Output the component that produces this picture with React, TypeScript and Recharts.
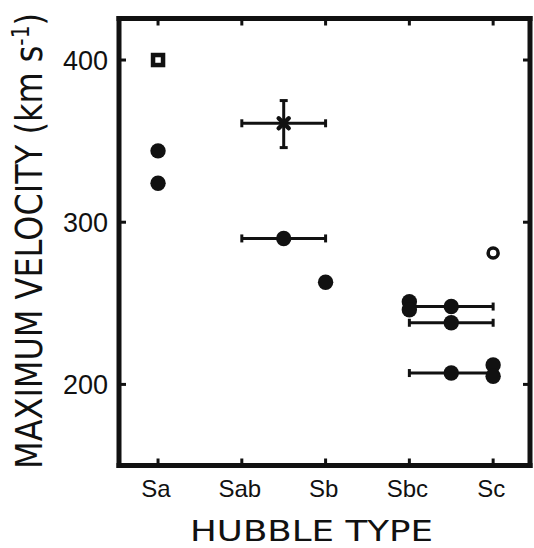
import { ScatterChart, Scatter, XAxis, YAxis, ErrorBar, Label } from 'recharts';

const categories = ['Sa', 'Sab', 'Sb', 'Sbc', 'Sc'];
const xTicks = [0, 1, 2, 3, 4];
const yTicks = [200, 300, 400];

// plain filled dots
const filledPoints = [
  { x: 0, y: 344 },
  { x: 0, y: 324 },
  { x: 2, y: 263 },
  { x: 3, y: 251 },
  { x: 3, y: 246 },
  { x: 4, y: 212 },
  { x: 4, y: 205 },
];

// filled dots with a horizontal range bar
const rangePoints = [
  { x: 1.5, y: 290, xerr: 0.5 },
  { x: 3.5, y: 248, xerr: 0.5 },
  { x: 3.5, y: 238, xerr: 0.5 },
  { x: 3.5, y: 207, xerr: 0.5 },
];

const openCircles = [{ x: 4, y: 281 }];
const openSquares = [{ x: 0, y: 400 }];
const crossPoints = [{ x: 1.5, y: 361, xerr: 0.5, yerr: [15, 14] }];

const INK = '#111';
const TICK = 7;

const FilledDot = (props: any) => <circle cx={props.cx} cy={props.cy} r={7.7} fill={INK} />;
const OpenDot = (props: any) => (
  <circle cx={props.cx} cy={props.cy} r={5} fill="#fff" stroke={INK} strokeWidth={3.5} />
);
const OpenSquare = (props: any) => (
  <rect x={props.cx - 5} y={props.cy - 5} width={10} height={10} fill="#fff" stroke={INK} strokeWidth={4.5} />
);
const Cross = (props: any) => (
  <path
    d={`M${props.cx - 5},${props.cy - 5}L${props.cx + 5},${props.cy + 5}M${props.cx + 5},${props.cy - 5}L${props.cx - 5},${props.cy + 5}`}
    stroke={INK}
    strokeWidth={4.5}
    strokeLinecap="round"
  />
);

const BottomTick = (props: any) => {
  const { x, y, payload } = props;
  return (
    <g>
      <line x1={x} y1={y} x2={x} y2={y - TICK} stroke={INK} strokeWidth={3} />
      <text x={x - 2} y={y + 31.5} textAnchor="middle" fontSize={24} fontFamily="Liberation Sans, Arial, sans-serif" fill={INK}>
        {categories[payload.value]}
      </text>
    </g>
  );
};

const TopTick = (props: any) => {
  const { x, y } = props;
  return <line x1={x} y1={y} x2={x} y2={y + TICK} stroke={INK} strokeWidth={3} />;
};

const LeftTick = (props: any) => {
  const { x, y, payload } = props;
  return (
    <g>
      <line x1={x} y1={y} x2={x + TICK} y2={y} stroke={INK} strokeWidth={3} />
      <text x={x - 11} y={y + 10} textAnchor="end" fontSize={27} fontFamily="Liberation Sans, Arial, sans-serif" fill={INK}>
        {payload.value}
      </text>
    </g>
  );
};

const RightTick = (props: any) => {
  const { x, y } = props;
  return <line x1={x} y1={y} x2={x - TICK} y2={y} stroke={INK} strokeWidth={3} />;
};

// natural length 546 squeezed to 456 with a scale, like the narrow lettering
const YTitle = () => (
  <text
    transform="translate(42,241) rotate(-90) scale(0.835,1)"
    textAnchor="middle"
    fontSize={38}
    fontFamily="DejaVu Sans, sans-serif"
    fill={INK}
    textLength={546}
    lengthAdjust="spacingAndGlyphs"
  >
    MAXIMUM VELOCITY (km s
    <tspan fontSize={24} dy={-13}>-1</tspan>
    <tspan dy={13}>)</tspan>
  </text>
);

const XTitle = () => (
  <text
    x={311.5}
    y={541}
    textAnchor="middle"
    fontSize={29}
    fontFamily="DejaVu Sans, sans-serif"
    fill={INK}
    textLength={243}
    lengthAdjust="spacingAndGlyphs"
  >
    HUBBLE TYPE
  </text>
);

const axisLine = { stroke: INK, strokeWidth: 5, strokeLinecap: 'square' as const };

export default function App() {
  return (
    <div style={{ position: 'absolute', left: 0, top: 0, width: 534, height: 548, background: '#fff' }}>
      <ScatterChart width={534} height={548} margin={{ top: 0, right: 0, bottom: 0, left: 0 }}>
        <XAxis
          xAxisId="b"
          type="number"
          dataKey="x"
          orientation="bottom"
          domain={[-0.466, 4.44]}
          allowDataOverflow
          ticks={xTicks}
          height={82.5}
          axisLine={axisLine}
          tickLine={false}
          tickSize={0}
          tickMargin={0}
          tick={<BottomTick />}
        >
          <Label content={<XTitle />} />
        </XAxis>
        <XAxis
          xAxisId="t"
          type="number"
          dataKey="x"
          orientation="top"
          domain={[-0.466, 4.44]}
          allowDataOverflow
          ticks={xTicks}
          height={18.5}
          axisLine={axisLine}
          tickLine={false}
          tickSize={0}
          tickMargin={0}
          tick={<TopTick />}
        />
        <YAxis
          yAxisId="l"
          type="number"
          dataKey="y"
          orientation="left"
          domain={[150, 425.6]}
          allowDataOverflow
          ticks={yTicks}
          width={119}
          axisLine={axisLine}
          tickLine={false}
          tickSize={0}
          tickMargin={0}
          tick={<LeftTick />}
        >
          <Label content={<YTitle />} />
        </YAxis>
        <YAxis
          yAxisId="r"
          type="number"
          dataKey="y"
          orientation="right"
          domain={[150, 425.6]}
          allowDataOverflow
          ticks={yTicks}
          width={4}
          axisLine={axisLine}
          tickLine={false}
          tickSize={0}
          tickMargin={0}
          tick={<RightTick />}
        />

        <Scatter xAxisId="b" yAxisId="l" data={rangePoints} shape={<FilledDot />} isAnimationActive={false}>
          <ErrorBar dataKey="xerr" direction="x" width={4} stroke={INK} strokeWidth={3} />
        </Scatter>
        <Scatter xAxisId="b" yAxisId="l" data={crossPoints} shape={<Cross />} isAnimationActive={false}>
          <ErrorBar dataKey="xerr" direction="x" width={4} stroke={INK} strokeWidth={3} />
          <ErrorBar dataKey="yerr" direction="y" width={4} stroke={INK} strokeWidth={3} />
        </Scatter>
        <Scatter xAxisId="b" yAxisId="l" data={filledPoints} shape={<FilledDot />} isAnimationActive={false} />
        <Scatter xAxisId="b" yAxisId="l" data={openCircles} shape={<OpenDot />} isAnimationActive={false} />
        <Scatter xAxisId="b" yAxisId="l" data={openSquares} shape={<OpenSquare />} isAnimationActive={false} />
      </ScatterChart>
    </div>
  );
}
